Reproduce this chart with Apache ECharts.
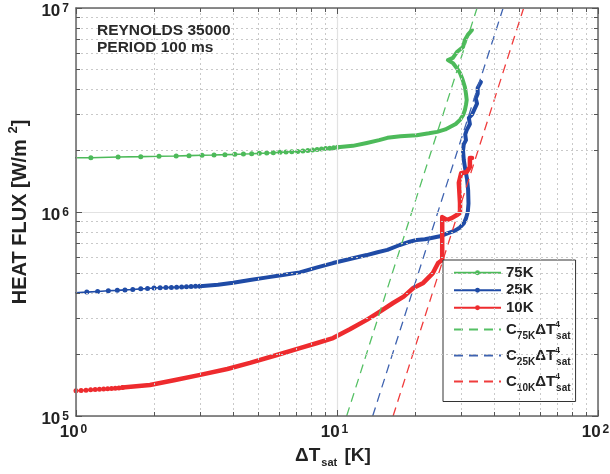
<!DOCTYPE html>
<html><head><meta charset="utf-8">
<script src="https://cdn.jsdelivr.net/npm/echarts@6/dist/echarts.min.js"></script>
<style>html,body{margin:0;padding:0;background:#fff}#c{width:610px;height:474px}</style>
</head><body><div id="c"></div>
<script>
// ---- data ----
const dT_75K_dots = [0.82,1.14,1.45,1.77,2.08,2.42,2.71,3.04,3.38,3.72,4.06,4.38,4.71,5.04,5.38,5.70,6.05,6.38,6.71,7.07,7.40,7.73,8.06,8.39,8.72,9.05,9.38,9.71,10.04];
const q_75K_dots = [1.840e6,1.846e6,1.861e6,1.868e6,1.875e6,1.882e6,1.889e6,1.896e6,1.903e6,1.910e6,1.917e6,1.924e6,1.931e6,1.939e6,1.946e6,1.953e6,1.961e6,1.968e6,1.975e6,1.980e6,1.990e6,2.000e6,2.015e6,2.025e6,2.035e6,2.045e6,2.055e6,2.065e6,2.075e6];
const dT_75K = [10.04,11.5,13.0,14.5,15.6,17.5,20.2,22.5,24.2,26.0,27.1,28.5,29.6,30.4,30.9,31.2,31.4,31.2,30.9,30.3,29.6,28.7,27.8,26.6,27.8,28.8,30.4,30.9,31.7,32.9];
const q_75K = [2.075e6,2.11e6,2.18e6,2.25e6,2.31e6,2.35e6,2.38e6,2.43e6,2.47e6,2.54e6,2.61e6,2.70e6,2.83e6,2.98e6,3.16e6,3.35e6,3.54e6,3.80e6,4.10e6,4.45e6,4.80e6,5.10e6,5.37e6,5.56e6,5.69e6,6.08e6,6.44e6,6.97e6,7.38e6,7.80e6];

const dT_25K_dots = [0.99,1.10,1.21,1.33,1.44,1.54,1.65,1.77,1.88,1.99,2.10,2.21,2.32,2.43,2.54,2.65,2.76,2.87,2.98];
const q_25K_dots = [4.02e5,4.05e5,4.08e5,4.11e5,4.13e5,4.15e5,4.17e5,4.20e5,4.22e5,4.24e5,4.25e5,4.26e5,4.27e5,4.28e5,4.29e5,4.30e5,4.31e5,4.32e5,4.33e5];
const dT_25K = [2.98,3.5,4.0,4.64,5.4,6.2,7.2,8.4,9.66,11.2,13.0,14.3,15.6,17.4,19.0,20.2,21.7,23.0,24.8,26.5,28.3,29.6,30.6,31.2,31.7,31.9,31.8,31.5,31.0,30.6,30.4,30.6,31.2,31.0,31.4,32.3,32.0,32.9,33.5,34.4,34.0,34.6,34.6,35.6];
const q_25K = [4.33e5,4.40e5,4.50e5,4.64e5,4.78e5,4.91e5,5.06e5,5.35e5,5.62e5,5.88e5,6.15e5,6.35e5,6.52e5,6.89e5,7.15e5,7.30e5,7.35e5,7.45e5,7.60e5,7.85e5,8.10e5,8.40e5,8.80e5,9.30e5,1.00e6,1.10e6,1.28e6,1.45e6,1.62e6,1.80e6,2.00e6,2.15e6,2.25e6,2.40e6,2.52e6,2.70e6,2.89e6,3.00e6,3.16e6,3.40e6,3.60e6,3.80e6,4.06e6,4.34e6];

const dT_10K_dots = [0.96,1.0,1.046,1.092,1.138,1.184,1.23,1.276,1.322,1.368,1.414,1.46,1.506];
const q_10K_dots = [1.325e5,1.330e5,1.334e5,1.339e5,1.343e5,1.347e5,1.352e5,1.356e5,1.360e5,1.364e5,1.369e5,1.373e5,1.378e5];
const dT_10K = [1.506,1.92,2.4,2.99,3.8,4.64,5.8,7.21,8.4,9.66,11.2,13.0,14.6,16.4,18.0,19.6,21.4,23.3,24.4,25.3,25.3,25.3,26.4,27.6,28.8,29.6,29.6,29.3,29.9,31.4,32.3,32.3,32.9];
const q_10K = [1.378e5,1.42e5,1.50e5,1.59e5,1.70e5,1.82e5,1.98e5,2.15e5,2.28e5,2.41e5,2.66e5,2.96e5,3.25e5,3.58e5,3.85e5,4.24e5,4.49e5,5.02e5,5.62e5,5.82e5,7.29e5,9.44e5,9.14e5,9.35e5,9.67e5,9.89e5,1.11e6,1.39e6,1.55e6,1.57e6,1.66e6,1.84e6,1.84e6];

// fitted C*dT^4 lines: end points (dT, q)
const fitX_75K = [10.89, 34.4], fitX_25K = [13.7, 43.3], fitX_10K = [16.4, 51.9];
const fitY = [1e5, 1e7];

const seriesNames = ['75K','25K','10K','C75K','C25K','C10K'];
const xTicks = [1, 100];   // x axis range
const yTicks = [1e5, 1e7]; // y axis range

// ---- chart ----
const pts = (xs, ys) => xs.map((x, i) => [x, ys[i]]);
const FONT = '"Liberation Sans", Arial, sans-serif';
const C = { g: '#4dba5a', b: '#1f4ba6', r: '#ee2b2e', gd: '#55c064', bd: '#3f63b0', rd: '#f03c3c' };

const chart = echarts.init(document.getElementById('c'), null, { renderer: 'canvas' });

function supLabel(v) {
  const e = Math.round(Math.log10(v));
  return '{b|10}{s|' + e + '}';
}
const labRich = {
  b: { fontSize: 17, fontWeight: 'bold', fontFamily: FONT, color: '#222', lineHeight: 17, verticalAlign: 'bottom', padding: [4, 0, 0, 0] },
  s: { fontSize: 12, fontWeight: 'bold', fontFamily: FONT, color: '#222', lineHeight: 11, verticalAlign: 'top', padding: [0, 0, 0, 2] }
};

function logAxis(kind, pos, showLabel, range) {
  const ax = {
    type: 'log', logBase: 10, min: range[0], max: range[1], position: pos,
    axisLine: { show: true, lineStyle: { color: '#666', width: 1.5 } },
    axisTick: { show: true, inside: true, length: 6, lineStyle: { color: '#555', width: 1 } },
    minorTick: { show: true, splitNumber: 9, length: 4, lineStyle: { color: '#555', width: 1 } },
    splitLine: { show: showLabel, lineStyle: { color: '#e2e2e2', width: 1.2 } },
    minorSplitLine: { show: showLabel, lineStyle: { color: '#c9c9c9', width: 1, type: [2, 3] } },
    axisLabel: { show: showLabel, formatter: supLabel, rich: labRich,
      margin: kind === 'x' ? 8 : 7,
      padding: kind === 'x' ? [0, 5, 0, 0] : [6, 0, 0, 0] },
    z: 5
  };
  return ax;
}

const xA = logAxis('x', 'bottom', true, xTicks);
xA.name = '{t|ΔT}{sub|sat}{t| [K]}';
xA.nameLocation = 'middle';
xA.nameGap = 30;
xA.nameTextStyle = { padding: [0, 8, 0, 0], rich: {
  t: { fontSize: 19, fontWeight: 'bold', fontFamily: FONT, color: '#222', lineHeight: 22, verticalAlign: 'top' },
  sub: { fontSize: 11, fontWeight: 'bold', fontFamily: FONT, color: '#222', lineHeight: 11, verticalAlign: 'bottom', padding: [0, 2, 0, 1] }
}};
const yA = logAxis('y', 'left', true, yTicks);
yA.name = '{t|HEAT FLUX [W/m }{s|2}{t|]}';
yA.nameLocation = 'middle';
yA.nameGap = 38;
yA.nameTextStyle = { rich: {
  t: { fontSize: 20, fontWeight: 'bold', fontFamily: FONT, color: '#222', lineHeight: 24, verticalAlign: 'bottom' },
  s: { fontSize: 13, fontWeight: 'bold', fontFamily: FONT, color: '#222', lineHeight: 13, verticalAlign: 'top' }
}};

const legRich = {
  c: { fontSize: 15, fontWeight: 'bold', fontFamily: FONT, color: '#222', lineHeight: 26, verticalAlign: 'middle' },
  sub: { fontSize: 10, fontWeight: 'bold', fontFamily: FONT, color: '#222', lineHeight: 10, verticalAlign: 'bottom', padding: [0, 0, 1, 0] },
  sup: { fontSize: 9, fontWeight: 'bold', fontFamily: FONT, color: '#222', lineHeight: 9, verticalAlign: 'top', padding: [4, 0, 0, 0], width: 1 }
};

function dotted(name, data, color) {
  return { name, type: 'line', data, symbol: 'circle', symbolSize: 5, showSymbol: true,
    lineStyle: { color, width: 1.6 }, itemStyle: { color }, color, animation: false, clip: true, z: 3 };
}
function thick(name, data, color, w) {
  return { name, type: 'line', data, symbol: 'none', showSymbol: false,
    lineStyle: { color, width: w, join: 'round', cap: 'round' }, itemStyle: { color }, color, animation: false, clip: true, z: 3 };
}
function dashed(name, data, color) {
  return { name, type: 'line', data, symbol: 'none', showSymbol: false,
    lineStyle: { color, width: 1.3, type: [9, 6] }, itemStyle: { color, opacity: 0 }, color, animation: false, clip: true, z: 4 };
}

chart.setOption({
  animation: false,
  backgroundColor: '#fff',
  textStyle: { fontFamily: FONT },
  grid: { left: 76, top: 8, width: 522, height: 408, outerBoundsMode: 'none', containLabel: false },
  xAxis: [xA, logAxis('x', 'top', false, xTicks)],
  yAxis: [yA, logAxis('y', 'right', false, yTicks)],
  legend: {
    show: true, orient: 'vertical', left: 443, top: 260,
    padding: [4, 5, 7, 10], itemGap: 0, itemWidth: 47, itemHeight: 6,
    backgroundColor: '#fff', borderColor: '#333', borderWidth: 1, borderRadius: 0,
    data: seriesNames,
    textStyle: { fontSize: 15, fontWeight: 'bold', fontFamily: FONT, color: '#222', lineHeight: 17.5, rich: legRich },
    formatter: function (n) {
      if (n.charAt(0) === 'C') return '{c|C}{sub|' + n.slice(1) + '}{c|ΔT}{sup|4}{sub|sat}';
      return n;
    }
  },
  graphic: [{
    type: 'text', left: 97, top: 22, z: 10,
    style: { text: 'REYNOLDS 35000\nPERIOD 100 ms', font: 'bold 15.5px ' + FONT, fill: '#2a2a2a', lineHeight: 17 }
  }],
  series: [
    dotted(seriesNames[0], pts(dT_75K_dots, q_75K_dots), C.g),
    dotted(seriesNames[1], pts(dT_25K_dots, q_25K_dots), C.b),
    dotted(seriesNames[2], pts(dT_10K_dots, q_10K_dots), C.r),
    dashed(seriesNames[3], pts(fitX_75K, fitY), C.gd),
    dashed(seriesNames[4], pts(fitX_25K, fitY), C.bd),
    dashed(seriesNames[5], pts(fitX_10K, fitY), C.rd),
    thick(seriesNames[0], pts(dT_75K, q_75K), C.g, 4),
    thick(seriesNames[1], pts(dT_25K, q_25K), C.b, 4),
    thick(seriesNames[2], pts(dT_10K, q_10K), C.r, 4.5)
  ]
});
</script></body></html>
